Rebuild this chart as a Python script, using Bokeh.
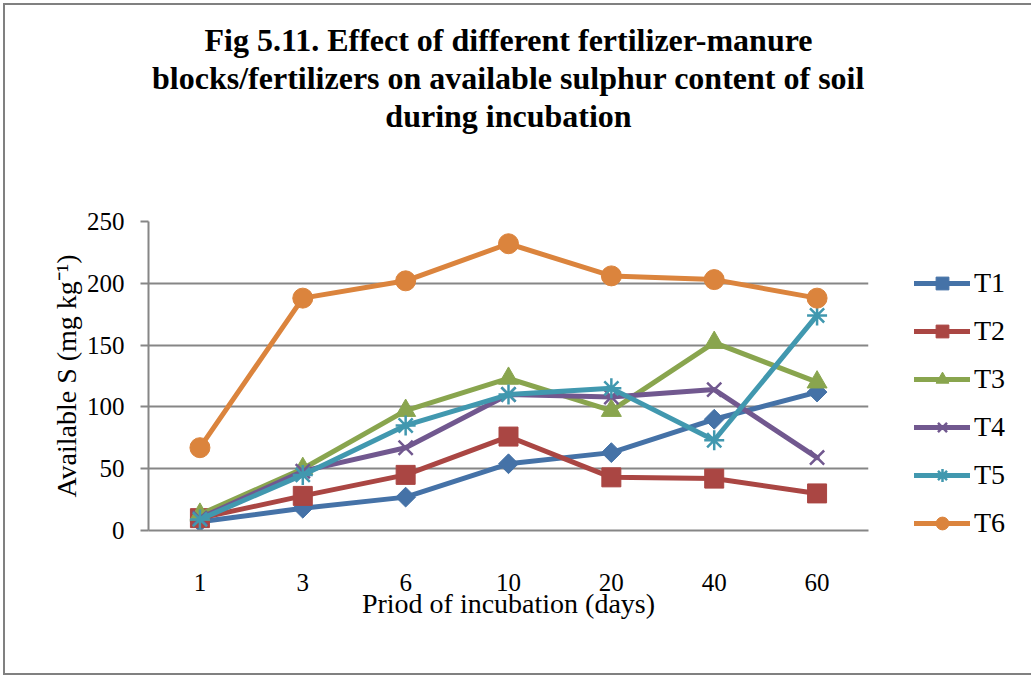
from bokeh.plotting import figure
from bokeh.models import (FactorRange, Range1d, FixedTicker, Legend, LegendItem, Title)
from bokeh.embed import file_html
from bokeh.resources import INLINE

days = ["1", "3", "6", "10", "20", "40", "60"]
T1 = [7, 18, 27, 54, 63, 90, 112]
T2 = [10, 28, 45, 76, 43, 42, 30]
T3 = [13, 50, 97, 123, 97, 152, 120]
T4 = [10, 48, 67, 110, 108, 114, 59]
T5 = [9, 45, 85, 110, 115, 73, 174]
T6 = [67, 188, 202, 232, 206, 203, 188]
y_ticks = [0, 50, 100, 150, 200, 250]
title_lines = ["Fig 5.11. Effect of different fertilizer-manure",
               "blocks/fertilizers on available sulphur content of soil",
               "during incubation"]

series = [
    ("T1", T1, "#4572A7", "square_diamond"),
    ("T2", T2, "#AA4643", "square"),
    ("T3", T3, "#89A54E", "triangle"),
    ("T4", T4, "#71588F", "x"),
    ("T5", T5, "#4198AF", "asterisk"),
    ("T6", T6, "#DB843D", "circle"),
]

FONT = "Liberation Serif"
GRID = "#868686"

p = figure(width=1025, height=672, frame_width=720, frame_height=309,
           x_range=FactorRange(factors=days),
           y_range=Range1d(0, 250), output_backend="svg", toolbar_location=None,
           min_border_left=143, min_border_right=158, min_border_top=216,
           min_border_bottom=143, title=None)
p.styles = {"border": "2px solid #808080", "margin": "3px"}
p.outline_line_color = None
p.background_fill_color = "white"
p.border_fill_color = "white"

# spacer between plot and title block (closest to the plot)
p.add_layout(Title(text=" ", text_font_size="32px", standoff=50), "above")
# title lines: first added is closest to the plot
for line in reversed(title_lines):
    t = Title(text=line, align="center", offset=8, text_font=FONT,
              text_font_style="bold", text_font_size="32px",
              text_color="black", standoff=0)
    p.add_layout(t, "above")

# axes
p.yaxis.ticker = FixedTicker(ticks=y_ticks)
p.yaxis.axis_line_color = GRID
p.yaxis.axis_line_width = 2
p.yaxis.major_tick_line_color = GRID
p.yaxis.major_tick_line_width = 2
p.yaxis.major_tick_out = 8
p.yaxis.major_tick_in = 0
p.yaxis.minor_tick_line_color = None
p.yaxis.major_label_standoff = 16
p.yaxis.major_label_text_font = FONT
p.yaxis.major_label_text_font_size = "25px"
p.yaxis.major_label_text_color = "black"
p.yaxis.axis_label = "Available S (mg kg\u207b\u00b9)"
p.yaxis.axis_label_text_font = FONT
p.yaxis.axis_label_text_font_size = "28px"
p.yaxis.axis_label_text_font_style = "normal"
p.yaxis.axis_label_text_color = "black"
p.yaxis.axis_label_standoff = 2

p.xaxis.axis_line_color = GRID
p.xaxis.axis_line_width = 2
p.xaxis.major_tick_line_color = None
p.xaxis.minor_tick_line_color = None
p.xaxis.major_label_standoff = 37
p.xaxis.major_label_text_font = FONT
p.xaxis.major_label_text_font_size = "25px"
p.xaxis.major_label_text_color = "black"
p.xaxis.axis_label = "Priod of incubation (days)"
p.xaxis.axis_label_text_font = FONT
p.xaxis.axis_label_text_font_size = "28px"
p.xaxis.axis_label_text_font_style = "normal"
p.xaxis.axis_label_text_color = "black"
p.xaxis.axis_label_standoff = -6

p.xgrid.grid_line_color = None
p.ygrid.grid_line_color = GRID
p.ygrid.grid_line_width = 2

items = []
for name, vals, color, marker in series:
    lr = p.line(days, vals, line_color=color, line_width=5,
                line_cap="round", line_join="round")
    if marker in ("x", "asterisk"):
        mr = p.scatter(days, vals, marker=marker, size=20, line_color=color,
                       line_width=2.5, fill_color=color)
    elif marker == "square_diamond":
        mr = p.scatter(days, vals, marker="square", size=14, angle=0.785398,
                       line_color=color, fill_color=color)
    elif marker == "square":
        mr = p.scatter(days, vals, marker="square", size=19,
                       line_color=color, fill_color=color)
    else:
        mr = p.scatter(days, vals, marker=marker, size=20,
                       line_color=color, fill_color=color)
    items.append(LegendItem(label=name, renderers=[lr, mr]))

legend = Legend(items=items, location="top_left", padding=0, margin=46,
                spacing=16, glyph_width=56, glyph_height=32, label_height=32,
                label_standoff=4, label_text_font=FONT,
                label_text_font_size="28px", label_text_color="black",
                border_line_color=None, background_fill_alpha=0)
p.add_layout(legend, "right")

open("out.html", "w").write(file_html(p, INLINE))
